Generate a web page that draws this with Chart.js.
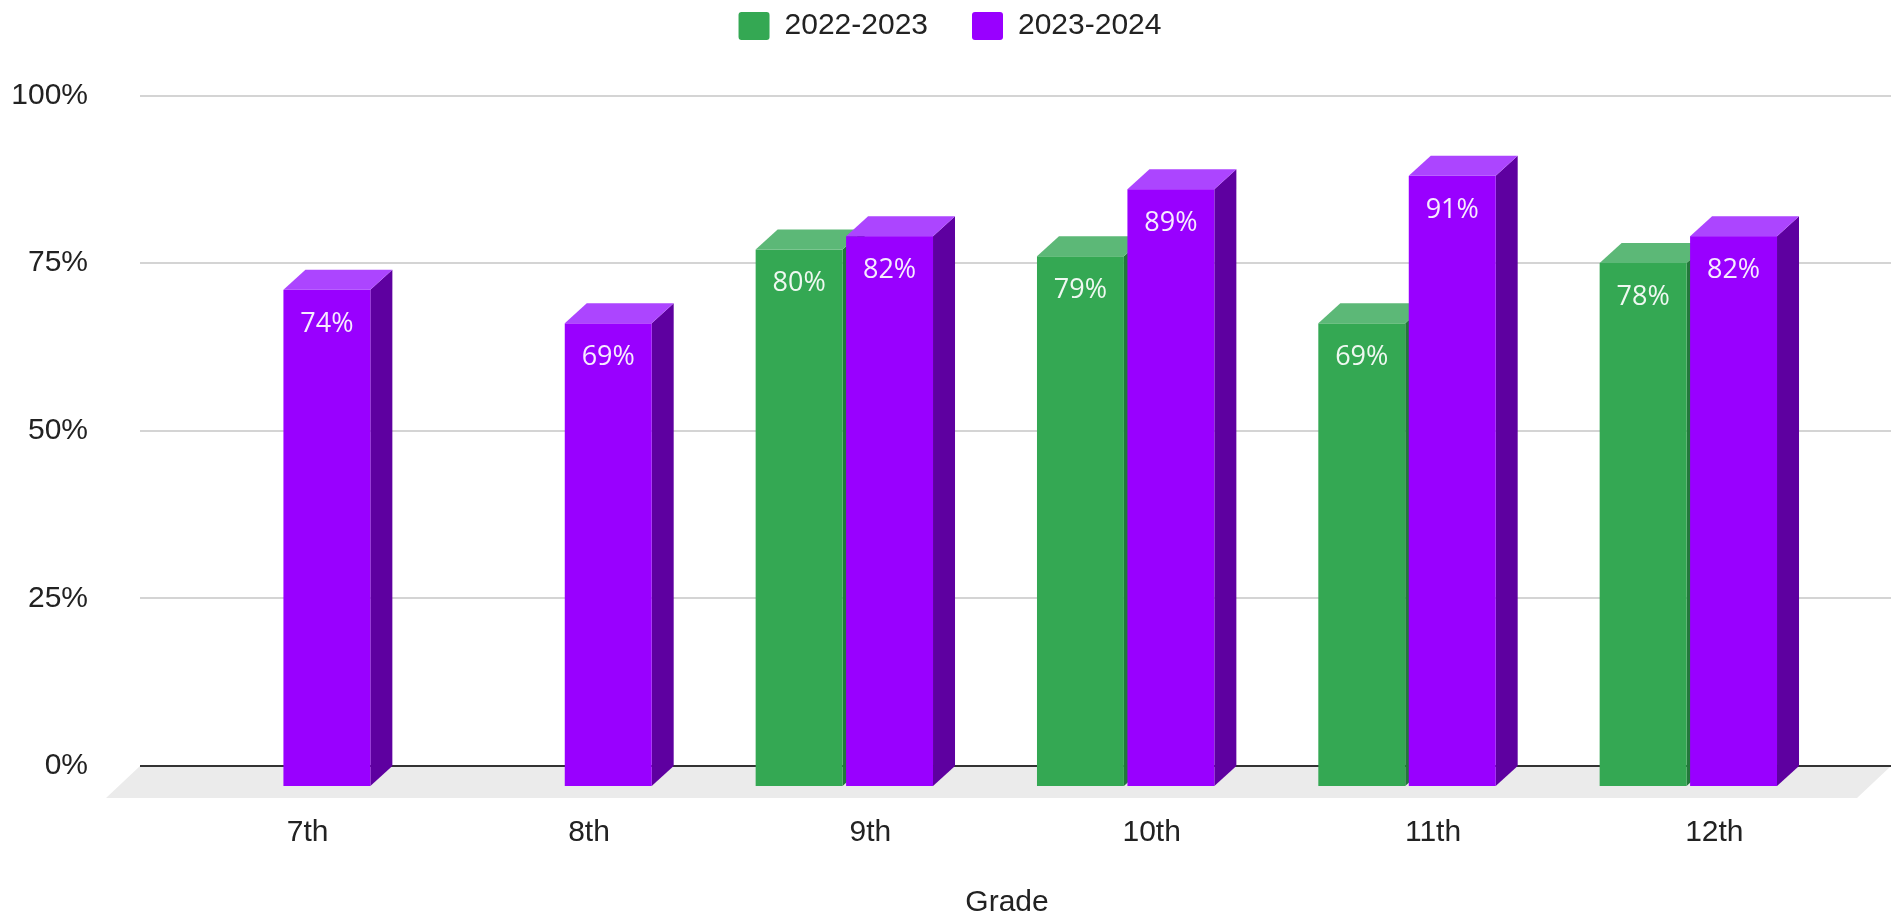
<!DOCTYPE html>
<html>
<head>
<meta charset="utf-8">
<title>Grade chart</title>
<script src="https://cdn.jsdelivr.net/npm/chart.js@4"></script>
<style>
    html, body { margin: 0; padding: 0; background: #ffffff; }
    #wrap { width: 1900px; height: 921px; position: relative; }
</style>
</head>
<body>
<div id="wrap"><canvas id="grade-chart"></canvas></div>
<script>
// Chart data
const grades = ['7th', '8th', '9th', '10th', '11th', '12th'];
const schoolYears = ['2022-2023', '2023-2024'];
const values2022 = [null, null, 80, 79, 69, 78];
const values2023 = [74, 69, 82, 89, 91, 82];
const yTicks = [0, 25, 50, 75, 100];

// Colours for each face of the 3D bars
const faceColors = [
    { front: '#34a853', side: '#22783b', top: '#5cb877' },
    { front: '#9900ff', side: '#5e00a0', top: '#ac45ff' }
];

const DEPTH_X = 22;
const DEPTH_Y = 20;
const RIGHT_GAP = 49;
const FONT = "'Liberation Sans', Arial, sans-serif";

// Push the plot area down below the legend, and centre the legend on the whole canvas
const legendSpacer = {
    id: 'legendSpacer',
    beforeInit(chart) {
        const fit = chart.legend.fit;
        chart.legend.fit = function () {
            fit.call(this);
            this.height += 44.5;
        };
    },
    afterLayout(chart) {
        chart.legend.right += RIGHT_GAP;
        chart.legend.width += RIGHT_GAP;
    }
};

// Back wall grid, floor and the 3D bars
const bars3d = {
    id: 'bars3d',
    beforeDatasetsDraw(chart) {
        const { ctx, chartArea, scales } = chart;
        const base = scales.y.getPixelForValue(0);
        const left = chartArea.left - 23;
        const right = chartArea.right + 40;

        ctx.save();
        ctx.strokeStyle = '#d4d4d4';
        ctx.lineWidth = 2;
        scales.y.ticks.forEach(tick => {
            if (tick.value === 0) return;
            const y = Math.round(scales.y.getPixelForValue(tick.value));
            ctx.beginPath();
            ctx.moveTo(left, y);
            ctx.lineTo(right, y);
            ctx.stroke();
        });

        // floor
        ctx.fillStyle = '#ebebeb';
        ctx.beginPath();
        ctx.moveTo(left, base);
        ctx.lineTo(right, base);
        ctx.lineTo(right - 34, base + 32);
        ctx.lineTo(left - 34, base + 32);
        ctx.closePath();
        ctx.fill();

        // zero line
        ctx.strokeStyle = '#333333';
        ctx.lineWidth = 2;
        ctx.beginPath();
        ctx.moveTo(left, base);
        ctx.lineTo(right, base);
        ctx.stroke();
        ctx.restore();
    },
    beforeDatasetDraw() {
        return false;
    },
    afterDatasetsDraw(chart) {
        const { ctx } = chart;
        const items = [];
        chart.data.datasets.forEach((dataset, di) => {
            const meta = chart.getDatasetMeta(di);
            meta.data.forEach((bar, i) => {
                const value = dataset.data[i];
                if (value === null || value === undefined) return;
                const p = bar.getProps(['x', 'y', 'base', 'width'], true);
                items.push({ p, value, colors: faceColors[di] });
            });
        });
        items.sort((a, b) => a.p.x - b.p.x);

        ctx.save();
        items.forEach(({ p, value, colors }) => {
            // front face sits in front of the value plane
            const cx = p.x - DEPTH_X;
            const L = cx - p.width / 2;
            const R = cx + p.width / 2;
            const T = p.y + DEPTH_Y;
            const B = p.base + DEPTH_Y;

            // side face
            ctx.fillStyle = colors.side;
            ctx.beginPath();
            ctx.moveTo(R, T);
            ctx.lineTo(R + DEPTH_X, T - DEPTH_Y);
            ctx.lineTo(R + DEPTH_X, B - DEPTH_Y);
            ctx.lineTo(R, B);
            ctx.closePath();
            ctx.fill();

            // top face
            ctx.fillStyle = colors.top;
            ctx.beginPath();
            ctx.moveTo(L, T);
            ctx.lineTo(R, T);
            ctx.lineTo(R + DEPTH_X, T - DEPTH_Y);
            ctx.lineTo(L + DEPTH_X, T - DEPTH_Y);
            ctx.closePath();
            ctx.fill();

            // front face
            ctx.fillStyle = colors.front;
            ctx.fillRect(L, T, R - L, B - T);

            // value label
            ctx.fillStyle = 'rgba(255, 255, 255, 0.92)';
            ctx.font = "27px 'Open Sans', sans-serif";
            ctx.textAlign = 'center';
            ctx.textBaseline = 'middle';
            ctx.fillText(value + '%', cx, T + 34);
        });
        ctx.restore();
    }
};

const ctx = document.getElementById('grade-chart').getContext('2d');

new Chart(ctx, {
    type: 'bar',
    data: {
        labels: grades,
        datasets: [
            {
                label: schoolYears[0],
                data: values2022,
                backgroundColor: faceColors[0].front,
                borderRadius: 3,
                categoryPercentage: 0.643,
                barPercentage: 0.961
            },
            {
                label: schoolYears[1],
                data: values2023,
                backgroundColor: faceColors[1].front,
                borderRadius: 3,
                categoryPercentage: 0.643,
                barPercentage: 0.961
            }
        ]
    },
    options: {
        responsive: true,
        maintainAspectRatio: false,
        animation: false,
        layout: {
            padding: { top: -33, right: RIGHT_GAP, bottom: 0, left: 0 }
        },
        plugins: {
            tooltip: { enabled: false },
            legend: {
                position: 'top',
                labels: {
                    color: '#222222',
                    font: { family: FONT, size: 30 },
                    boxWidth: 31,
                    boxHeight: 28,
                    padding: 44,
                    useBorderRadius: true,
                    borderRadius: 3
                }
            }
        },
        scales: {
            x: {
                grid: { display: false, drawTicks: false },
                border: { display: false },
                ticks: {
                    color: '#222222',
                    font: { family: FONT, size: 30 },
                    padding: 49,
                    labelOffset: 4,
                    maxRotation: 0,
                    autoSkip: false
                },
                title: {
                    display: true,
                    text: 'Grade',
                    color: '#222222',
                    font: { family: FONT, size: 30 },
                    padding: { top: 0, bottom: 0 }
                },
                afterFit(scale) {
                    scale.height = 155;
                }
            },
            y: {
                min: 0,
                max: 100,
                grid: { display: false, drawTicks: false },
                border: { display: false },
                afterBuildTicks(scale) {
                    scale.ticks = yTicks.map(v => ({ value: v }));
                },
                ticks: {
                    color: '#222222',
                    font: { family: FONT, size: 30 },
                    padding: 75,
                    callback: value => value + '%'
                },
                afterFit(scale) {
                    scale.width = 163;
                }
            }
        }
    },
    plugins: [legendSpacer, bars3d]
});
</script>
</body>
</html>
